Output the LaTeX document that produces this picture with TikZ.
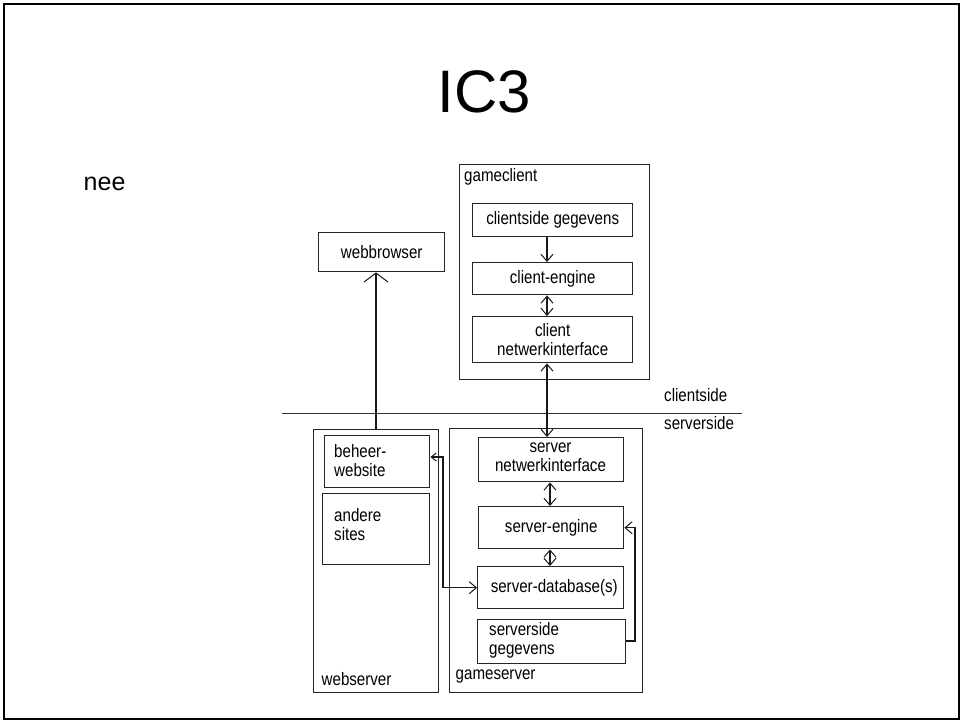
\documentclass[tikz,border=0pt]{standalone}
\usepackage{fontspec}
\setmainfont{Liberation Sans}
\newfontfamily\dgfont[FakeStretch=0.84]{Liberation Sans}
\usetikzlibrary{arrows.meta}
\tikzset{
  box/.style={draw=black!85, line width=1.4pt, inner sep=0pt, anchor=north west,
              font=\dgfont\fontsize{18}{19}\selectfont, align=center},
  lbl/.style={font=\dgfont\fontsize{18}{19}\selectfont, inner sep=0pt, align=left},
  tip/.tip={Straight Barb[length=7pt,width=12pt,line width=1pt]},
  widetip/.tip={Straight Barb[length=9pt,width=24pt,line width=1pt]},
  smalltip/.tip={Straight Barb[length=5pt,width=8pt,line width=1pt]},
  conn/.style={line width=1.2pt, draw=black!90, -tip},
  dconn/.style={line width=1.2pt, draw=black!90, tip-tip},
}
\begin{document}
\begin{tikzpicture}[x=1pt,y=-1pt]
\useasboundingbox (0,0) rectangle (961,721);
\draw[line width=2pt] (4,4) rectangle (958.5,718.5);

\node[font=\fontsize{60}{60}\selectfont, inner sep=0pt] (title) at (484,91.5) {IC3};
\node[font=\fontsize{25}{25}\selectfont, inner sep=0pt, anchor=base west] (nee) at (83.5,190) {nee};

% client side
\node[box, minimum width=126, minimum height=39] (wb) at (318,232) {webbrowser};
\node[box, minimum width=190, minimum height=215] (gc) at (459,164) {};
\node[lbl, anchor=base west] (gcl) at (464,181.7) {gameclient};
\node[box, minimum width=160, minimum height=33] (cg) at (472,203) {clientside gegevens};
\node[box, minimum width=160, minimum height=32] (ce) at (472,262) {client-engine};
\node[box, minimum width=160, minimum height=46] (cn) at (472,316) {client\\netwerkinterface};

% divider
\draw[line width=1.4pt, draw=black!80] (282,413.5) -- (742,413.5);
\node[lbl, anchor=base west] (cs) at (664,401.5) {clientside};
\node[lbl, anchor=base west] (ss) at (664,429.5) {serverside};

% server side
\node[box, minimum width=125, minimum height=263] (ws) at (313,429) {};
\node[box, minimum width=105, minimum height=52] (bw) at (324,435) {};
\node[lbl, anchor=west] (bwl) at (334,460.7) {beheer-\\website};
\node[box, minimum width=107, minimum height=71] (as) at (322,493) {};
\node[lbl, anchor=west] (asl) at (334,524.7) {andere\\sites};
\node[lbl, anchor=base west] (wsl) at (321.5,685.7) {webserver};

\node[box, minimum width=193, minimum height=264] (gs) at (449,428) {};
\node[box, minimum width=145, minimum height=44] (sn) at (478,437) {};
\node[lbl, align=center] (snl) at (550.5,457) {server\\netwerkinterface};
\node[box, minimum width=145, minimum height=42] (se) at (478,506) {server-engine};
\node[box, minimum width=146, minimum height=42] (sd) at (477,566) {\hspace*{7pt}server-database(s)};
\node[box, minimum width=148, minimum height=44] (sg) at (477,619) {};
\node[lbl, anchor=west] (sgl) at (489,640.6) {serverside\\gegevens};
\node[lbl, anchor=base west] (gsl) at (455.5,679) {gameserver};

% connectors
\coordinate (xa) at (376,0);
\draw[line width=1.2pt, draw=black!90, -widetip] (ws.north -| xa) -- (wb.south -| xa);
\coordinate (xb) at (547,0);
\draw[conn] (cg.south -| xb) -- (ce.north -| xb);
\draw[dconn] (ce.south -| xb) -- (cn.north -| xb);
\draw[dconn] (sn.north -| xb) -- (cn.south -| xb);
\coordinate (xc) at (550,0);
\draw[dconn] (sn.south -| xc) -- (se.north -| xc);
\draw[dconn] (se.south -| xc) -- (sd.north -| xc);
\coordinate (ja) at (443,457);
\draw[line width=1.2pt, draw=black!90, smalltip-tip] (bw.east |- ja) -- (ja) |- (sd.west);
\coordinate (jb) at (635,641);
\draw[conn] (sg.east |- jb) -- (jb) |- (se.east);
\end{tikzpicture}
\end{document}
